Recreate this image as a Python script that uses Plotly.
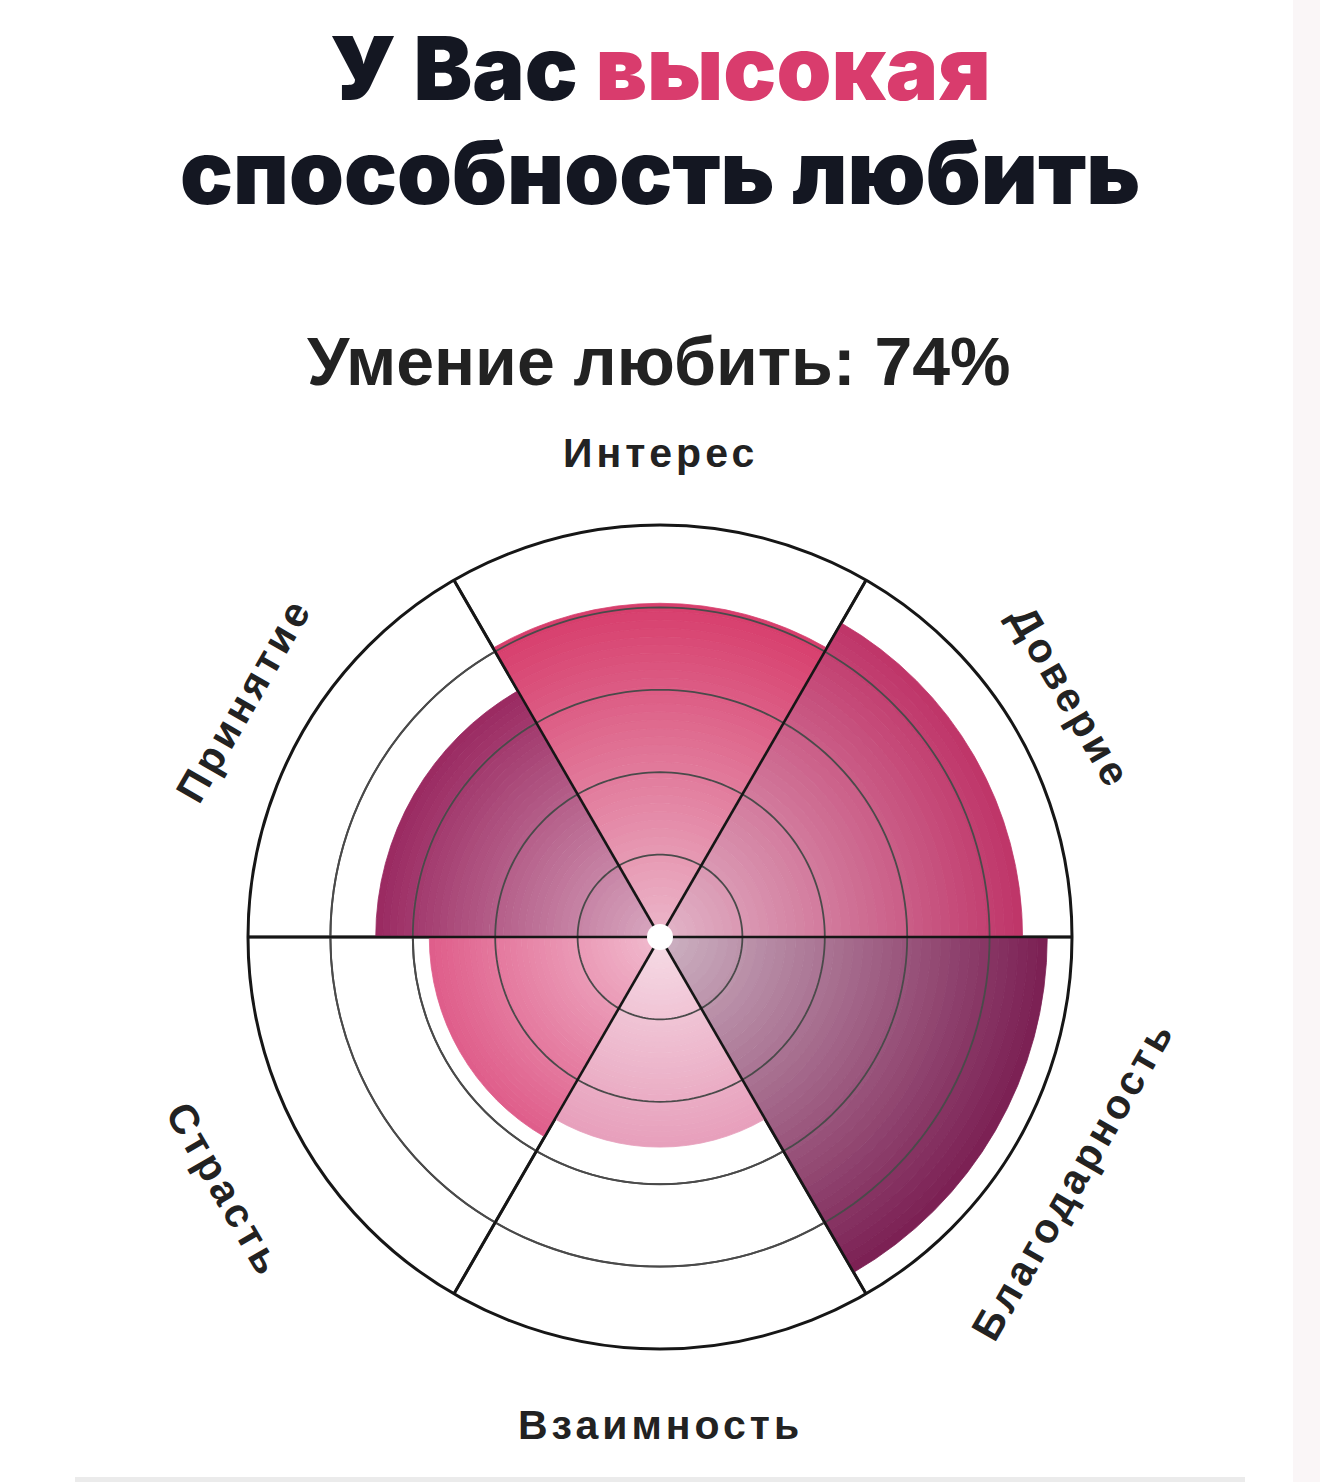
import plotly.graph_objects as go

# ---------------- data ----------------
categories = ["Интерес", "Доверие", "Благодарность", "Взаимность", "Страсть", "Принятие"]
values = [81, 88, 94, 51, 56, 69]
angles = [90, 30, 330, 270, 210, 150]
inner_colors = ["#ecb8cb", "#e2b6c9", "#cdb3c3", "#f6dce6", "#f1bccf", "#d9a9c1"]
outer_colors = ["#d73d6c", "#bf3468", "#7b1f53", "#e79fbb", "#df5d8a", "#9a2961"]
ring_vals = [20, 40, 60, 80]
spoke_angles = [0, 60, 120, 180, 240, 300]
title_line1 = "У Вас"
title_accent = "высокая"
title_line2 = "способность любить"
subtitle = "Умение любить: 74%"

W, H = 1320, 1482
N = 40


def hex2rgb(h):
    h = h.lstrip("#")
    return [int(h[i:i + 2], 16) for i in (0, 2, 4)]


def mix(c1, c2, t):
    a, b = hex2rgb(c1), hex2rgb(c2)
    return "rgb(%d,%d,%d)" % tuple(round(a[i] + (b[i] - a[i]) * t) for i in range(3))


fig = go.Figure()
# gradient-filled sectors (each sector split into thin radial bands)
for cat, v, a, ci, co in zip(categories, values, angles, inner_colors, outer_colors):
    bases = [v * k / N for k in range(N)]
    cols = [mix(ci, co, ((k + 0.5) / N)) for k in range(N)]
    fig.add_trace(go.Barpolar(
        r=[v / N] * N, base=bases, theta=[a] * N, width=[60] * N,
        marker=dict(color=cols, line=dict(color=cols, width=0.8)),
        name=cat, hoverinfo="skip", showlegend=False,
    ))

# concentric rings drawn above the sectors
circle_theta = list(range(0, 361, 2))
for rv in ring_vals:
    fig.add_trace(go.Scatterpolar(
        r=[rv] * len(circle_theta), theta=circle_theta, mode="lines",
        line=dict(color="#4a4a4a", width=1.8), hoverinfo="skip", showlegend=False,
    ))
# spokes
for sa in spoke_angles:
    fig.add_trace(go.Scatterpolar(
        r=[0, 100], theta=[sa, sa], mode="lines",
        line=dict(color="#161616", width=2.6), hoverinfo="skip", showlegend=False,
    ))
# white centre dot
fig.add_trace(go.Scatterpolar(
    r=[0], theta=[0], mode="markers",
    marker=dict(color="white", size=26, line=dict(width=0)),
    hoverinfo="skip", showlegend=False,
))

fig.update_layout(
    width=W, height=H,
    margin=dict(l=0, r=0, t=0, b=0),
    paper_bgcolor="white",
    showlegend=False,
    polar=dict(
        domain=dict(x=[248 / W, 1072 / W], y=[133 / H, 957 / H]),
        bgcolor="white",
        radialaxis=dict(range=[0, 100], tickvals=ring_vals, showticklabels=False, ticks="",
                        showline=False, gridcolor="#4a4a4a", gridwidth=1.5),
        angularaxis=dict(rotation=0, direction="counterclockwise",
                         tickvals=spoke_angles, showticklabels=False, ticks="",
                         gridcolor="#161616", gridwidth=2.6, showline=True, linecolor="#161616",
                         linewidth=3, layer="above traces"),
    ),
)


def py(p):
    return 1 - p / H


ann = []
title_font = dict(family="Inter, Roboto, sans-serif", size=88, color="#141722", weight=900)
ann.append(dict(text=f"{title_line1} <span style='color:#d93c6d'>{title_accent}</span>",
                x=0.5, y=py(68), xref="paper", yref="paper", showarrow=False,
                xanchor="center", yanchor="middle", font=title_font))
ann.append(dict(text=title_line2, x=0.5, y=py(172), xref="paper", yref="paper", showarrow=False,
                xanchor="center", yanchor="middle", font=title_font))
ann.append(dict(text=subtitle, x=659 / W, y=py(361), xref="paper", yref="paper", showarrow=False,
                xanchor="center", yanchor="middle",
                font=dict(family="Liberation Sans, Arial, sans-serif", size=68, color="#222222", weight=700)))

label_pos = {
    "Интерес": (660, 453, 0),
    "Доверие": (1070, 697, 60),
    "Благодарность": (1073, 1180, -60),
    "Взаимность": (660, 1425, 0),
    "Страсть": (225, 1190, 60),
    "Принятие": (244, 700, -60),
}
for cat in categories:
    x, y, rot = label_pos[cat]
    ann.append(dict(text=f"<span style='letter-spacing:4px'>{cat}</span>",
                    x=x / W, y=py(y), xref="paper", yref="paper", showarrow=False,
                    xanchor="center", yanchor="middle", textangle=rot,
                    font=dict(family="Liberation Sans, Arial, sans-serif", size=41,
                              color="#222222", weight=700)))
fig.update_layout(annotations=ann)

fig.update_layout(shapes=[
    dict(type="rect", xref="paper", yref="paper", x0=1293 / W, x1=1, y0=0, y1=1,
         fillcolor="#faf6f7", line=dict(width=0), layer="below"),
    dict(type="rect", xref="paper", yref="paper", x0=75 / W, x1=1245 / W, y0=0, y1=5 / H,
         fillcolor="#ebebeb", line=dict(width=0), layer="below"),
])

fig.write_html("out.html", config={"displayModeBar": False},
               post_script="document.body.style.margin='0';document.body.style.overflow='hidden';")
